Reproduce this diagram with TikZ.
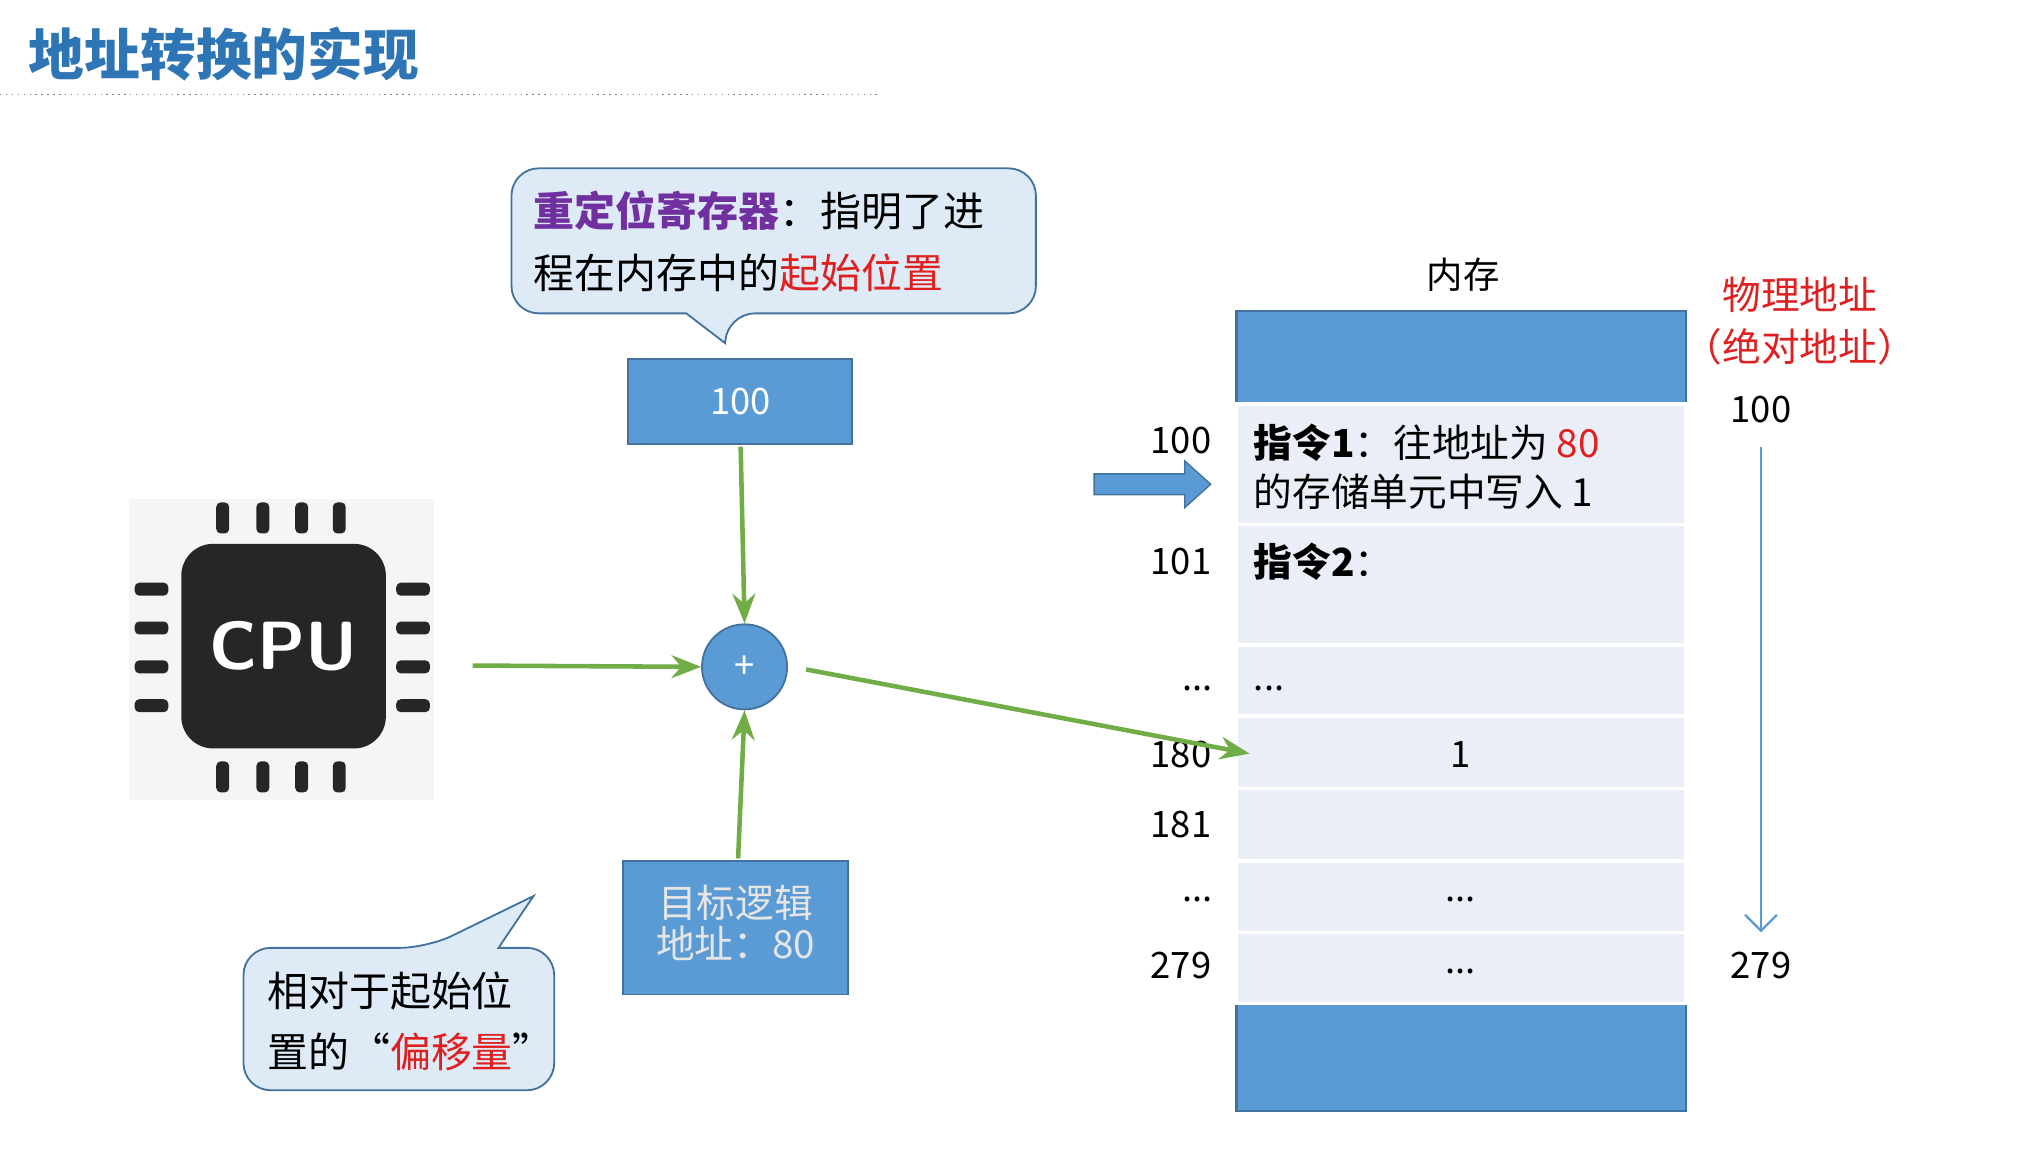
\documentclass[tikz,border=0pt]{standalone}
\usepackage{fontspec}
\setmainfont{Noto Sans CJK SC}
\usetikzlibrary{arrows.meta}
\definecolor{bl}{HTML}{5B9BD5}
\definecolor{bd}{HTML}{41719C}
\definecolor{cell}{HTML}{E9EEF7}
\definecolor{cfill}{HTML}{DEEBF7}
\definecolor{gr}{HTML}{70AD47}
\definecolor{rd}{HTML}{E02020}
\definecolor{pu}{HTML}{7030A0}
\definecolor{tb}{HTML}{2E75B6}
\begin{document}
\begin{tikzpicture}[x=0.02cm,y=-0.02cm,
  every node/.style={font=\fontsize{16}{19}\selectfont,inner sep=0pt},
  garrow/.style={draw=gr,line width=2pt,-{Stealth[length=13pt,width=10pt]}},
  bbox/.style={fill=bl,draw=bd,line width=0.8pt},
  mcell/.style={fill=cell,draw=white,line width=1.5pt},
  call/.style={fill=cfill,draw=bd,line width=0.8pt,rounded corners=12pt}]
\useasboundingbox (0,0) rectangle (1560,888);
% title
\node[anchor=west,text=tb,font=\fontsize{24.5}{28}\selectfont\bfseries] (title) at (22,42) {地址转换的实现};
\draw[gray,dotted,line width=0.6pt] (0,73) -- (680,73);
% CPU chip
\fill[gray!8] (100,385) rectangle (335,618);
\foreach \x in {172,203,233,262}{
  \fill[black!85,rounded corners=2pt] (\x-5,388) rectangle (\x+5,412);
  \fill[black!85,rounded corners=2pt] (\x-5,588) rectangle (\x+5,612);}
\foreach \y in {455,485,515,545}{
  \fill[black!85,rounded corners=2pt] (104,\y-5) rectangle (130,\y+5);
  \fill[black!85,rounded corners=2pt] (306,\y-5) rectangle (332,\y+5);}
\fill[black!85,rounded corners=14pt] (140,420) rectangle (298,578);
\node[text=white,font=\fontsize{30}{34}\selectfont\bfseries\sffamily] (cpu) at (219,499) {CPU};
\coordinate (cpuout) at (365,514);
% relocation box
\draw[bbox] (485,277) rectangle (658,343);
\node[text=white] (reloc) at (572,310) {100};
% callout top
\draw[call] (395,130) -- (800,130) -- (800,242) -- (562,242) [sharp corners]-- (560,265) -- (530,242) [rounded corners=12pt]-- (395,242) -- cycle;
\node[anchor=west,font=\fontsize{18}{22}\selectfont] (c1a) at (412,163) {\textcolor{pu}{\bfseries 重定位寄存器}：指明了进};
\node[anchor=west,font=\fontsize{18}{22}\selectfont] (c1b) at (412,211) {程在内存中的\textcolor{rd}{起始位置}};
% adder
\node[circle,fill=bl,draw=bd,line width=0.8pt,minimum size=37.4pt,text=white] (plus) at (575,515) {+};
% target box
\draw[bbox] (481,665) rectangle (655,768);
\node[text=white!90!black,font=\fontsize{17}{20}\selectfont] (tgt) at (568,717) {\begin{tabular}{c}目标逻辑\\[-2pt]地址：80\end{tabular}};
% callout bottom
\draw[call] (188,732) -- (330,732) [sharp corners]-- (412,692) -- (385,732) [rounded corners=12pt]-- (428,732) -- (428,842) -- (188,842) -- cycle;
\node[anchor=west,font=\fontsize{18}{22}\selectfont] (c2a) at (206,765) {相对于起始位};
\node[anchor=west,font=\fontsize{18}{22}\selectfont] (c2b) at (206,812) {置的“\textcolor{rd}{偏移量}”};
% memory
\node (memt) at (1130,212) {内存};
\fill[bl] (955,240) rectangle (1302,312);
\fill[bl] (955,775) rectangle (1302,858);
\draw[bd,line width=1pt] (955,240) rectangle (1302,858);
\draw[mcell] (955,312) rectangle (1302,405);
\draw[mcell] (955,405) rectangle (1302,498);
\draw[mcell] (955,498) rectangle (1302,553);
\draw[mcell] (955,553) rectangle (1302,609);
\draw[mcell] (955,609) rectangle (1302,665);
\draw[mcell] (955,665) rectangle (1302,720);
\draw[mcell] (955,720) rectangle (1302,775);
\node[anchor=west,font=\fontsize{17}{20}\selectfont] (i1a) at (968,342) {\textbf{指令1}：往地址为 \textcolor{rd}{80}};
\node[anchor=west,font=\fontsize{17}{20}\selectfont] (i1b) at (968,380) {的存储单元中写入 1};
\node[anchor=west,font=\fontsize{17}{20}\selectfont] (i2) at (968,434) {\textbf{指令2}：};
\node[anchor=west] (d1) at (968,532) {...};
\node (v1) at (1128,583) {1};
\node (d2) at (1128,695) {...};
\node (d3) at (1128,750) {...};
\coordinate (row180) at (965,582);
% left addresses
\node (a100) at (912,340) {100};
\node (a101) at (912,434) {101};
\node (a1) at (925,532) {...};
\node (a180) at (912,583) {180};
\node (a181) at (912,637) {181};
\node (a2) at (925,695) {...};
\node (a279) at (912,746) {279};
% blue pointer arrow
\fill[bl,draw=bd,line width=0.6pt] (845,366) -- (915,366) -- (915,356) -- (935,374) -- (915,392) -- (915,382) -- (845,382) -- cycle;
% right side
\node[text=rd,font=\fontsize{17}{20}\selectfont] (ph1) at (1390,228) {物理地址};
\node[text=rd,font=\fontsize{17}{20}\selectfont] (ph2) at (1390,268) {（绝对地址）};
\node (r100) at (1360,316) {100};
\node (r279) at (1360,746) {279};
\draw[bl,line width=1pt,-{Straight Barb[length=7pt]}] (1360,345) -- (1360,720);
% green arrows
\draw[garrow] (cpuout) -- (plus.west);
\draw[garrow] (reloc.south |- 0,345) -- (plus.north);
\draw[garrow] (570,663) -- (plus.south);
\draw[garrow] (plus.east) ++(14,2) -- (row180);
\end{tikzpicture}
\end{document}
